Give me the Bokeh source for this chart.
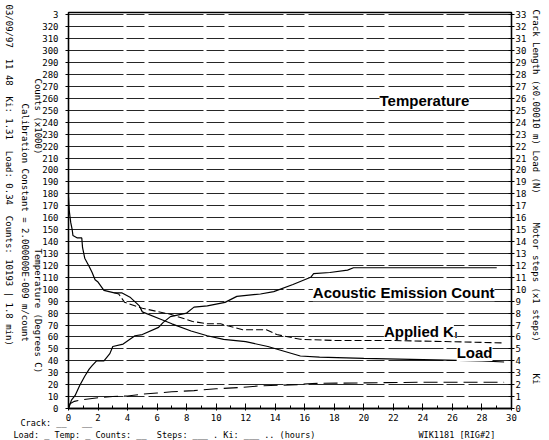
import math
from bokeh.plotting import figure
from bokeh.models import Range1d, LinearAxis, FixedTicker, Label, GridBox, Column
from bokeh.core.properties import value
from bokeh.embed import file_html
from bokeh.resources import INLINE

# ---------------- data ----------------
left_ticks = list(range(0, 331, 10))
left_tick_text = {t: str(t) for t in left_ticks}
left_tick_text[330] = "3"
right_ticks = list(range(0, 34))
x_ticks = list(range(0, 31, 2))
x_minor = list(range(0, 31))

load_hours = [0, 0.05, 0.15, 0.25, 0.3, 0.6, 0.9, 0.95, 1.1, 1.4, 1.6, 1.8, 2.0, 2.4, 3.1, 3.6,
              4.2, 4.8, 5.0, 6.2, 7.0, 8.3, 9.4, 10.5, 12.0, 13.5, 14.6, 15.7, 17.0, 20.0,
              24.0, 28.0, 29.5]
load_vals = [177, 166, 156, 150, 145, 143, 143, 135, 126, 119, 114, 108, 106, 99, 97, 97,
             93, 86, 81, 75, 71, 65, 61, 58, 56, 52, 48, 44, 43, 42, 41, 40, 39]

ki_hours = [3.1, 3.4, 3.8, 5.0, 6.9, 8.4, 9.4, 10.3, 11.8, 13.4, 14.1, 15.7, 18.0, 22.0, 26.0, 29.5]
ki_vals = [97, 96, 89, 84, 79, 73, 71, 71, 66, 66, 62, 58, 57, 57, 56, 55]

ae_hours = [0, 0.2, 0.45, 0.75, 1.1, 1.4, 1.6, 1.9, 2.4, 2.8, 3.0, 3.7, 4.5, 5.0, 6.1, 6.4,
            6.9, 8.0, 8.5, 9.4, 10.6, 11.4, 13.0, 13.9, 15.2, 16.4, 16.6, 17.7, 18.9, 19.3,
            24.0, 29.0]
ae_vals = [0, 7, 11, 19, 27, 33, 36, 40, 40, 46, 52, 54, 61, 62, 68, 72,
           77, 80, 85, 86, 89, 94, 96, 98, 104, 110, 113, 114, 116, 118, 118, 118]

crack_hours = [0, 0.1, 0.4, 1.0, 2.0, 3.0, 4.0, 5.0, 6.0, 7.0, 8.5, 10.0, 11.5, 13.0, 15.5,
               16.5, 20.0, 24.0, 28.0, 29.5]
crack_vals = [0, 4, 6, 7.5, 9, 10, 10.5, 12, 13, 14, 15, 16.5, 17.5, 19, 20, 21, 21.5, 22, 22, 22]

NB = "\u00a0"
side_texts = [
    "03/09/97" + NB * 2 + "11 48" + NB * 2 + "Ki: 1.31" + NB * 2 + "Load: 0.34" + NB * 2
    + "Counts: 10193 | 1.8 min)",
    "Calibration Constant = 2.000000E-009 m/count",
    "Counts (x1000)",
    "Temperature (Degrees C)",
    "Crack Length (x0.00010 m) Load (N)",
    "Motor steps (x1 steps)",
    "Ki",
]
bottom_texts = [
    "Crack:" + NB + "__" + NB * 3 + "__",
    "Load: _ Temp: _ Counts: __" + NB * 2 + "Steps: ___ . Ki: ___ .. (hours)",
    "WIK1181 [RIG#2]",
]

W, H = 549, 440
MONO = "DejaVu Sans Mono"

# ---------------- main figure ----------------
p = figure(width=W, height=H, x_range=Range1d(0, 30), y_range=Range1d(0, 332),
           output_backend="svg", toolbar_location=None,
           min_border_left=68, min_border_right=38, min_border_top=12, min_border_bottom=32)
p.background_fill_color = "white"
p.border_fill_color = "white"
p.outline_line_color = "black"
p.outline_line_width = 1.3

ya = p.yaxis[0]
ya.ticker = FixedTicker(ticks=left_ticks)
ya.major_label_overrides = left_tick_text
ya.major_label_text_font = MONO
ya.major_label_text_font_size = "9px"
ya.major_label_text_color = "black"
ya.major_tick_out = 3
ya.major_tick_in = 0
ya.minor_tick_out = 0
ya.minor_tick_in = 0
ya.major_label_standoff = 7
ya.axis_line_width = 1.3

xa = p.xaxis[0]
xa.ticker = FixedTicker(ticks=x_ticks, minor_ticks=x_minor)
xa.major_label_text_font = MONO
xa.major_label_text_font_size = "9px"
xa.major_label_text_color = "black"
xa.major_tick_in = 5
xa.major_tick_out = 2
xa.minor_tick_in = 3
xa.minor_tick_out = 0
xa.major_label_standoff = 3
xa.axis_line_width = 1.3

p.extra_y_ranges = {"right": Range1d(0, 33.2)}
ra = LinearAxis(y_range_name="right", ticker=FixedTicker(ticks=right_ticks))
ra.major_label_text_font = MONO
ra.major_label_text_font_size = "9px"
ra.major_label_text_color = "black"
ra.major_tick_in = 3
ra.major_tick_out = 3
ra.minor_tick_in = 0
ra.minor_tick_out = 0
ra.major_label_standoff = 1
ra.axis_line_width = 1.3
p.add_layout(ra, "right")

p.xgrid.visible = False
p.ygrid[0].ticker = FixedTicker(ticks=left_ticks)
p.ygrid[0].grid_line_color = "black"
p.ygrid[0].grid_line_width = 1.2
p.ygrid[0].grid_line_alpha = 0.85
p.ygrid[0].grid_line_dash = "55 3 18 4"

p.line(load_hours, load_vals, line_color="black", line_width=1.2)
p.line(ki_hours, ki_vals, line_color="black", line_width=1.1, line_dash="7 3")
p.line(ae_hours, ae_vals, line_color="black", line_width=1.2)
p.line(crack_hours, crack_vals, line_color="black", line_width=1.1, line_dash="14 6")

def big(text, x, y, align="center", size="15px"):
    p.add_layout(Label(x=x, y=y, text=text, text_font="Liberation Sans", text_font_style="bold",
                       text_font_size=size, text_align=align, text_baseline="middle",
                       text_color="black", background_fill_color="white"))

big("Temperature", 24.1, 258)
big("Acoustic Emission Count", 22.7, 97)
big("Applied K", 26.1, 64.5, align="right")
big("I", 26.15, 61.5, align="left", size="9px")
big("Load", 27.5, 47)

# ---------------- transparent overlay for the margin texts ----------------
o = figure(width=W, height=H, x_range=Range1d(0, W), y_range=Range1d(0, H),
           output_backend="svg", toolbar_location=None,
           x_axis_type=None, y_axis_type=None,
           min_border_left=0, min_border_right=0, min_border_top=0, min_border_bottom=0)
o.background_fill_color = None
o.border_fill_color = None
o.outline_line_color = None
o.xgrid.visible = False
o.ygrid.visible = False

down = -math.pi / 2
side_x = [8, 24, 37, 37, 535, 535, 535]
side_top = [4, 103, 78, 248, 9, 222, 373]
o.text(x=side_x, y=[H - t for t in side_top], text=side_texts, angle=down,
       text_font=value(MONO), text_font_size=value("9px"), text_align="left",
       text_baseline="middle", text_color="black")

bot_x = [20, 13, 418]
bot_y = [422, 434, 434]
o.text(x=bot_x, y=[H - t for t in bot_y], text=bottom_texts,
       text_font=value(MONO), text_font_size=value("8.5px"), text_align="left",
       text_baseline="middle", text_color="black")

layout = GridBox(children=[(p, 0, 0), (Column(children=[o]), 0, 0)])

open("out.html", "w").write(file_html(layout, INLINE))
